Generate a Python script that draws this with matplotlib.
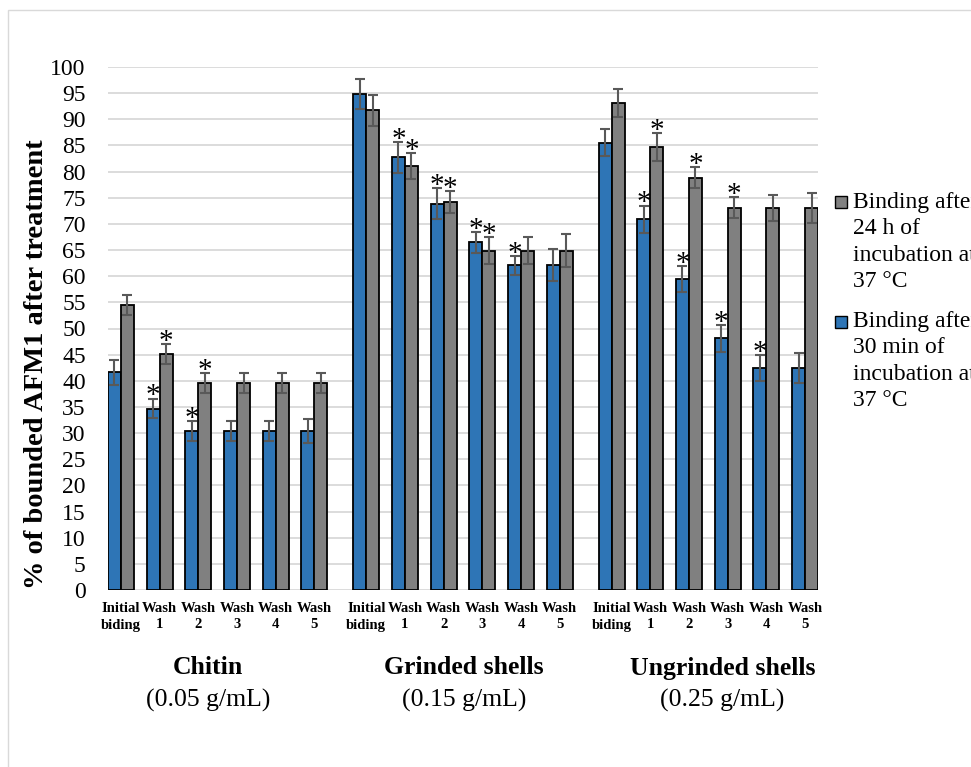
import matplotlib
matplotlib.use("Agg")
import matplotlib.pyplot as plt
import matplotlib.transforms as mtransforms
from matplotlib.patches import Rectangle
import numpy as np

plt.rcParams['font.family'] = ['Liberation Serif', 'DejaVu Serif']

# ---------------- data ----------------
categories = ["Initial\nbiding", "Wash\n1", "Wash\n2", "Wash\n3", "Wash\n4", "Wash\n5"]
groups = ["Chitin", "Grinded shells", "Ungrinded shells"]
concentrations = ["(0.05 g/mL)", "(0.15 g/mL)", "(0.25 g/mL)"]

binding_30min = [41.6, 34.7, 30.4, 30.4, 30.4, 30.4,
                 94.8, 82.7, 73.9, 66.5, 62.1, 62.1,
                 85.5, 70.9, 59.4, 48.1, 42.4, 42.4]
err_30min = [2.4, 1.9, 1.9, 1.9, 1.9, 2.3,
             2.9, 3.0, 3.0, 2.0, 1.8, 3.1,
             2.6, 2.6, 2.5, 2.5, 2.5, 2.9]
sig_30min = [0, 1, 1, 0, 0, 0,
             0, 1, 1, 1, 1, 0,
             0, 1, 1, 1, 1, 0]

binding_24h = [54.5, 45.1, 39.5, 39.5, 39.5, 39.5,
               91.7, 81.0, 74.2, 64.9, 64.9, 64.9,
               93.1, 84.7, 78.8, 73.1, 73.1, 73.1]
err_24h = [2.0, 1.9, 1.9, 1.9, 1.9, 1.9,
           3.0, 2.5, 2.1, 2.5, 2.5, 3.1,
           2.7, 2.7, 2.0, 2.0, 2.5, 2.9]
sig_24h = [0, 1, 1, 0, 0, 0,
           0, 1, 1, 1, 0, 0,
           0, 1, 1, 1, 0, 0]

label_24h = "Binding after\n24 h of\nincubation at\n37 °C"
label_30min = "Binding after\n30 min of\nincubation at\n37 °C"

yticks = list(range(0, 101, 5))

# ---------------- style ----------------
BLUE = "#2E75B6"
GRAY = "#808080"
ERR = "#595959"
GRID = "#D9D9D9"

W, H = 971, 767
fig = plt.figure(figsize=(W / 100, H / 100), dpi=100)

def px(x, y):
    return (x / W, 1 - y / H)

# chart-area border
fig.patches.append(Rectangle(px(8, 800), (W + 20) / W, (800 - 10) / H,
                             transform=fig.transFigure, fill=False,
                             edgecolor=GRID, linewidth=1.0))

ax_left, ax_right, ax_top, ax_bottom = 108, 818, 67, 590
ax = fig.add_axes([ax_left / W, 1 - ax_bottom / H,
                   (ax_right - ax_left) / W, (ax_bottom - ax_top) / H])

n_cat = len(categories)
group_stride = 6.34
bw = 0.335
centers = np.array([g * group_stride + i for g in range(len(groups)) for i in range(n_cat)])

ekw = dict(ecolor=ERR, elinewidth=1.5, capsize=3.6, capthick=1.5)
ax.bar(centers - bw / 2, binding_30min, width=bw, color=BLUE, edgecolor="black",
       linewidth=1.3, yerr=err_30min, error_kw=ekw, zorder=3)
ax.bar(centers + bw / 2, binding_24h, width=bw, color=GRAY, edgecolor="black",
       linewidth=1.3, yerr=err_24h, error_kw=ekw, zorder=3)

for xs, vals, errs, sigs in [(centers - bw / 2, binding_30min, err_30min, sig_30min),
                             (centers + bw / 2, binding_24h, err_24h, sig_24h)]:
    for x, v, e, s in zip(xs, vals, errs, sigs):
        if s:
            ax.annotate("*", (x, v + e), xytext=(0, -3.5), textcoords="offset points",
                        ha="center", va="baseline", fontsize=21, zorder=5)

ax.set_xlim(centers[0] - bw, centers[-1] + bw)
ax.set_ylim(0, 100)
ax.set_yticks(yticks)
ax.yaxis.grid(True, color=GRID, linewidth=1.3, zorder=0)
ax.set_axisbelow(True)
for sp in ax.spines.values():
    sp.set_visible(False)
ax.tick_params(axis="y", length=0, pad=16, labelsize=17)
ax.set_xticks(centers)
ax.set_xticklabels(categories * len(groups), fontsize=10.5, fontweight="bold",
                   linespacing=1.3)
ax.tick_params(axis="x", length=0, pad=9)

# group labels
trans = mtransforms.blended_transform_factory(ax.transData, fig.transFigure)
label_dx_px = [-10, 1, 14]
for g, (name, conc) in enumerate(zip(groups, concentrations)):
    gc = centers[g * n_cat:(g + 1) * n_cat].mean()
    off = mtransforms.offset_copy(trans, fig=fig, x=label_dx_px[g], y=0, units="dots")
    ax.text(gc, 1 - 668 / H, name, transform=off, ha="center", va="center",
            fontsize=18.5, fontweight="bold")
    ax.text(gc, 1 - 700 / H, conc, transform=off, ha="center", va="center",
            fontsize=18.5)

# y label
fig.text(*px(37, 364), "% of bounded AFM1 after treatment", rotation=90,
         ha="center", va="center", fontsize=20.5, fontweight="bold")

# legend (manual, clipped by the figure edge like the reference)
for (y_sq, y_txt, col, lab) in [(196, 192, GRAY, label_24h), (316, 311, BLUE, label_30min)]:
    fig.patches.append(Rectangle(px(835, y_sq + 12), 12 / W, 12 / H,
                                 transform=fig.transFigure, facecolor=col,
                                 edgecolor="black", linewidth=1.0))
    fig.text(*px(853, y_txt), lab, ha="left", va="top", fontsize=17,
             linespacing=1.33)

fig.savefig("out.png", dpi=100)
